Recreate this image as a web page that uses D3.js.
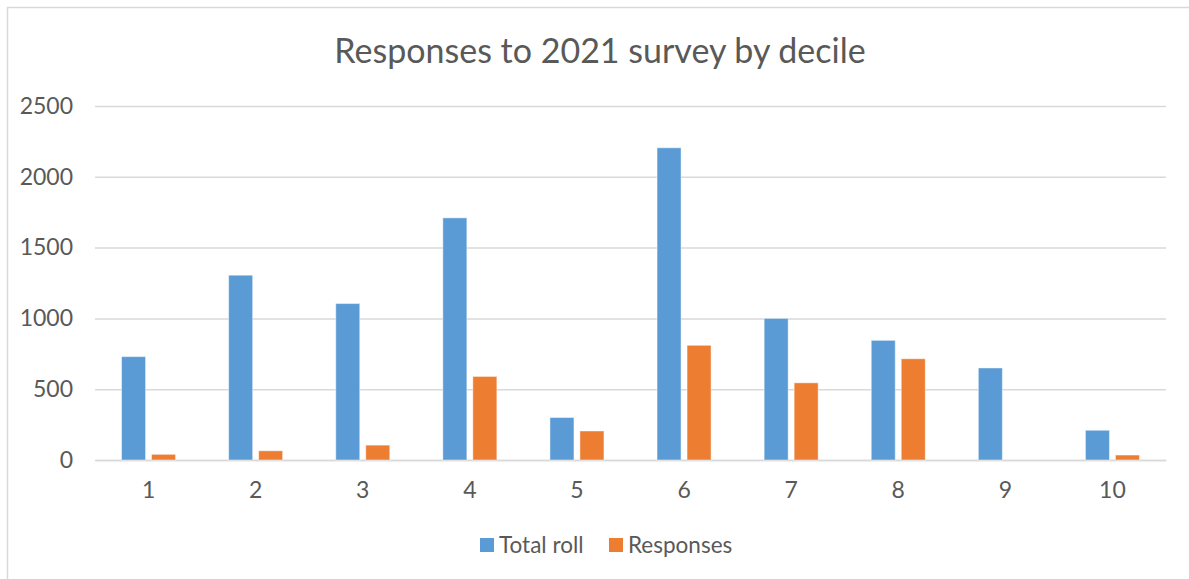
<!DOCTYPE html>
<html>
<head>
<meta charset="utf-8">
<script src="https://cdn.jsdelivr.net/npm/d3@7"></script>
<style>
  html, body { margin: 0; padding: 0; background: #fff; }
  svg { display: block; font-family: Lato, "Open Sans", sans-serif; }
</style>
</head>
<body>
<svg id="chart" width="1189" height="579"></svg>
<script>
// Deciles and their values
const deciles = ["1", "2", "3", "4", "5", "6", "7", "8", "9", "10"];
const totalRoll = [730, 1305, 1105, 1710, 300, 2205, 1000, 845, 650, 210];
const responses = [40, 65, 105, 590, 205, 810, 545, 715, 0, 35];
const seriesNames = ["Total roll", "Responses"];
const seriesColors = ["#5B9BD5", "#ED7D31"];
const yTicks = [0, 500, 1000, 1500, 2000, 2500];
const titleText = "Responses to 2021 survey by decile";

const svg = d3.select("#chart");
const W = 1189, H = 579;
const plot = { left: 95, right: 1166, top: 106, bottom: 460 };

// Chart area frame
svg.append("rect")
  .attr("x", 7.5).attr("y", 7.5)
  .attr("width", W + 20).attr("height", H + 20)
  .attr("fill", "#fff").attr("stroke", "#d9d9d9").attr("stroke-width", 1.5);

// Title
svg.append("text")
  .attr("x", 600).attr("y", 63)
  .attr("text-anchor", "middle")
  .attr("fill", "#595959")
  .attr("font-size", 34)
  .text(titleText);

const y = d3.scaleLinear().domain([0, 2500]).range([plot.bottom, plot.top]);
const x0 = d3.scaleBand().domain(deciles).range([plot.left, plot.right]);
const groupW = 54;
const x1 = d3.scaleBand().domain(seriesNames)
  .range([(x0.step() - groupW) / 2, (x0.step() + groupW) / 2])
  .paddingInner(0.2);

// Horizontal gridlines
const yAxis = d3.axisLeft(y).tickValues(yTicks).tickFormat(d3.format("d"))
  .tickSize(-(plot.right - plot.left)).tickPadding(22);
const gy = svg.append("g").attr("transform", `translate(${plot.left},0)`).call(yAxis);
gy.select(".domain").remove();
gy.selectAll(".tick line").attr("stroke", "#d9d9d9").attr("stroke-width", 1.5);
gy.selectAll(".tick text").attr("fill", "#595959").attr("font-size", 23)
  .attr("font-family", "Lato, 'Open Sans', sans-serif");

// Category axis
const xAxis = d3.axisBottom(x0).tickSize(0).tickPadding(22);
const gx = svg.append("g").attr("transform", `translate(0,${plot.bottom})`).call(xAxis);
gx.select(".domain").attr("stroke", "#d9d9d9").attr("stroke-width", 1.5);
gx.selectAll(".tick text").attr("fill", "#595959").attr("font-size", 23)
  .attr("font-family", "Lato, 'Open Sans', sans-serif");

// Bars
const rows = deciles.map((d, i) => ({ decile: d, values: [totalRoll[i], responses[i]] }));
const groups = svg.append("g").selectAll("g").data(rows).join("g")
  .attr("transform", d => `translate(${x0(d.decile)},0)`);
groups.selectAll("rect")
  .data(d => d.values.map((v, j) => ({ key: seriesNames[j], value: v, color: seriesColors[j] })))
  .join("rect")
  .filter(d => d.value > 0)
  .attr("x", d => x1(d.key))
  .attr("width", x1.bandwidth())
  .attr("y", d => y(d.value))
  .attr("height", d => y(0) - y(d.value))
  .attr("fill", d => d.color)
  .attr("stroke", "#fff").attr("stroke-opacity", 0.45).attr("stroke-width", 1);

// Legend
const legendItems = [
  { name: seriesNames[0], color: seriesColors[0], x: 480 },
  { name: seriesNames[1], color: seriesColors[1], x: 609 }
];
const lg = svg.append("g").selectAll("g").data(legendItems).join("g")
  .attr("transform", d => `translate(${d.x},538)`);
lg.append("rect").attr("width", 14).attr("height", 14).attr("fill", d => d.color);
lg.append("text").attr("x", 19).attr("y", 14.5)
  .attr("fill", "#595959").attr("font-size", 22.5)
  .text(d => d.name);
</script>
</body>
</html>
